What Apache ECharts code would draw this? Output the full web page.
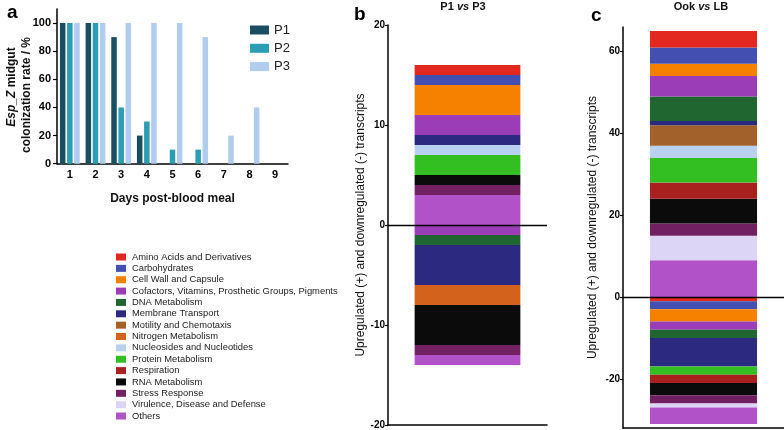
<!DOCTYPE html>
<html><head><meta charset="utf-8">
<script src="https://cdn.jsdelivr.net/npm/echarts@6/dist/echarts.min.js"></script>
<style>html,body{margin:0;padding:0;background:#fff}#c{width:784px;height:430px}</style>
</head><body><div id="c"></div>
<script>
// Panel a
const days = ['1','2','3','4','5','6','7','8','9'];
const p1 = [100,100,90,20,0,0,0,0,0];
const p2 = [100,100,40,30,10,10,0,0,0];
const p3 = [100,100,100,100,100,90,20,40,0];
const yTicksA = [0,20,40,60,80,100];
// Panels b and c (category order as in legend)
const categories = ['Amino Acids and Derivatives','Carbohydrates','Cell Wall and Capsule',
  'Cofactors, Vitamins, Prosthetic Groups, Pigments','DNA Metabolism','Membrane Transport',
  'Motility and Chemotaxis','Nitrogen Metabolism','Nucleosides and Nucleotides','Protein Metabolism',
  'Respiration','RNA Metabolism','Stress Response','Virulence, Disease and Defense','Others'];
const upB   = [1,1,3,2,0,1,0,0,1,2,0,1,1,0,3];
const downB = [0,0,0,-1,-1,-4,0,-2,0,0,0,-4,-1,0,-1];
const upC   = [4,4,3,5,6,1,5,0,3,6,4,6,3,6,9];
const downC = [-1,-2,-3,-2,-2,-7,0,0,0,-2,-2,-3,-2,-1,-4];
const yTicksC = [-20,0,20,40,60];
const catColors = ['#E2281F','#4350B2','#F68000','#9C3DB8','#1F6631','#2C2A80','#A2602A','#D2621C',
  '#B9D1F1','#33BF22','#A8211F','#0B0B0B','#712062','#DDD5F5','#B152C9'];

const FONT = 'Liberation Sans, Arial, sans-serif';
const chart = echarts.init(document.getElementById('c'));

function stackSeries(up, down, axisIdx, stack) {
  const out = [];
  let first = true;
  const zeroLine = {silent:true, symbol:'none', label:{show:false},
    lineStyle:{color:'#000', width:1.3, type:'solid'}, data:[{yAxis:0}]};
  for (let i = categories.length - 1; i >= 0; i--) {
    if (up[i] > 0) {
      const s = {type:'bar', name:categories[i], stack:stack, xAxisIndex:axisIdx, yAxisIndex:axisIdx,
        barWidth:'66.5%', data:[up[i]], itemStyle:{color:catColors[i]}, emphasis:{disabled:true}};
      if (first) { s.markLine = zeroLine; first = false; }
      out.push(s);
    }
  }
  for (let i = 0; i < categories.length; i++) {
    if (down[i] < 0) {
      out.push({type:'bar', name:categories[i], stack:stack, xAxisIndex:axisIdx, yAxisIndex:axisIdx,
        barWidth:'66.5%', data:[down[i]], itemStyle:{color:catColors[i]}, emphasis:{disabled:true}});
    }
  }
  return out;
}

const axisLineBlack = {show:true, onZero:false, lineStyle:{color:'#000', width:1.5}};
const nameStyle = {fontSize:12, color:'#111', fontFamily:FONT};

const option = {
  animation:false,
  textStyle:{fontFamily:FONT},
  grid:[
    {left:57, right:496, top:9, bottom:266.3},
    {left:388, right:237, top:25, bottom:4},
    {left:623, right:0, top:27, bottom:2}
  ],
  legend:[
    {data:['P1','P2','P3'], orient:'vertical', left:250, top:22.5, padding:0, itemWidth:19, itemHeight:9,
     itemGap:3.3, icon:'rect', selectedMode:false,
     textStyle:{fontSize:13, lineHeight:15, color:'#222', fontFamily:FONT}},
    {data:categories, orient:'vertical', left:116, top:251.5, padding:0, height:178, itemWidth:10, itemHeight:7,
     itemGap:0.36, icon:'rect', selectedMode:false,
     textStyle:{fontSize:9.4, lineHeight:11, color:'#222', fontFamily:FONT, padding:[0,0,0,1]}}
  ],
  xAxis:[
    {gridIndex:0, type:'category', data:days, axisLine:axisLineBlack,
     axisTick:{alignWithLabel:true, length:4, lineStyle:{color:'#000', width:1.2}},
     axisLabel:{fontSize:11, fontWeight:'bold', color:'#000', margin:6},
     name:'Days post-blood meal', nameLocation:'middle', nameGap:29,
     nameTextStyle:{fontSize:12, fontWeight:'bold', color:'#111', fontFamily:FONT}},
    {gridIndex:1, type:'category', data:['x'], axisLine:axisLineBlack, axisTick:{show:false}, axisLabel:{show:false}},
    {gridIndex:2, type:'category', data:['x'], axisLine:axisLineBlack, axisTick:{show:false}, axisLabel:{show:false}}
  ],
  yAxis:[
    {gridIndex:0, type:'value', min:0, max:110, axisLine:axisLineBlack,
     axisTick:{show:true, length:4, customValues:yTicksA, lineStyle:{color:'#000', width:1.2}},
     axisLabel:{customValues:yTicksA, fontSize:11, fontWeight:'bold', color:'#000', margin:6},
     splitLine:{show:false}},
    {gridIndex:1, type:'value', min:-20, max:20, interval:10, axisLine:axisLineBlack,
     axisTick:{show:true, length:3, lineStyle:{color:'#000', width:1.2}},
     axisLabel:{fontSize:10, fontWeight:'bold', color:'#000', margin:3},
     splitLine:{show:false},
     name:'Upregulated (+) and downregulated (-) transcripts', nameLocation:'middle', nameGap:21,
     nameTextStyle:nameStyle},
    {gridIndex:2, type:'value', min:-32, max:66, axisLine:axisLineBlack,
     axisTick:{show:true, length:3, customValues:yTicksC, lineStyle:{color:'#000', width:1.2}},
     axisLabel:{customValues:yTicksC, fontSize:10, fontWeight:'bold', color:'#000', margin:3},
     splitLine:{show:false},
     name:'Upregulated (+) and downregulated (-) transcripts', nameLocation:'middle', nameGap:24,
     nameTextStyle:nameStyle}
  ],
  series:[
    {type:'bar', name:'P1', data:p1, xAxisIndex:0, yAxisIndex:0, barWidth:5.5, barGap:'30%',
     itemStyle:{color:'#1A4F62'}},
    {type:'bar', name:'P2', data:p2, xAxisIndex:0, yAxisIndex:0, barWidth:5.5, barGap:'30%',
     itemStyle:{color:'#2C9EB4'}},
    {type:'bar', name:'P3', data:p3, xAxisIndex:0, yAxisIndex:0, barWidth:5.5, barGap:'30%',
     itemStyle:{color:'#B0CCEF'}}
  ].concat(stackSeries(upB, downB, 1, 'b')).concat(stackSeries(upC, downC, 2, 'c')),
  graphic:[
    {type:'text', left:7, top:3, style:{text:'a', font:'bold 19px ' + FONT, fill:'#000'}},
    {type:'text', left:354, top:5, style:{text:'b', font:'bold 19px ' + FONT, fill:'#000'}},
    {type:'text', left:591, top:6, style:{text:'c', font:'bold 19px ' + FONT, fill:'#000'}},
    {type:'text', x:463, y:7, style:{text:'{n|P1 }{i|vs}{n| P3}', align:'center', verticalAlign:'middle',
      textAlign:'center', textVerticalAlign:'middle',
      rich:{n:{fontSize:11, fontWeight:'bold', fontFamily:FONT, fill:'#111'},
            i:{fontSize:11, fontWeight:'bold', fontStyle:'italic', fontFamily:FONT, fill:'#111'}}}},
    {type:'text', x:701, y:7, style:{text:'{n|Ook }{i|vs}{n| LB}', align:'center', verticalAlign:'middle',
      textAlign:'center', textVerticalAlign:'middle',
      rich:{n:{fontSize:11, fontWeight:'bold', fontFamily:FONT, fill:'#111'},
            i:{fontSize:11, fontWeight:'bold', fontStyle:'italic', fontFamily:FONT, fill:'#111'}}}},
    {type:'text', x:12, y:87, rotation:Math.PI/2, style:{text:'{i|Esp_Z}{n| midgut}', align:'center', verticalAlign:'middle',
      textAlign:'center', textVerticalAlign:'middle',
      rich:{n:{fontSize:12, fontWeight:'bold', fontFamily:FONT, fill:'#111'},
            i:{fontSize:12, fontWeight:'bold', fontStyle:'italic', fontFamily:FONT, fill:'#111'}}}},
    {type:'text', x:27, y:95, rotation:Math.PI/2, style:{text:'colonization rate / %', align:'center', verticalAlign:'middle',
      textAlign:'center', textVerticalAlign:'middle', font:'bold 12px ' + FONT, fill:'#111'}}
  ]
};
chart.setOption(option);
</script>
</body></html>
